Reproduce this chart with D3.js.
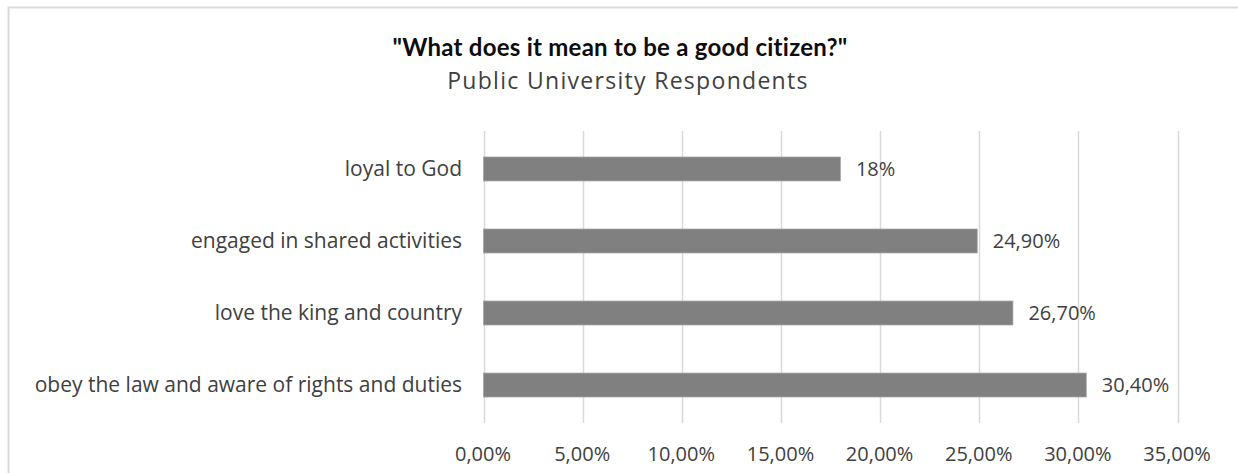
<!DOCTYPE html>
<html>
<head>
<meta charset="utf-8">
<script src="https://cdn.jsdelivr.net/npm/d3@7"></script>
<style>
  html, body { margin: 0; padding: 0; background: #ffffff; }
  svg { display: block; }
</style>
</head>
<body>
<svg id="chart" width="1238" height="473"></svg>
<script>
const categories = [
  "loyal to God",
  "engaged in shared activities",
  "love the king and country",
  "obey the law and aware of rights and duties"
];
const values = [18, 24.9, 26.7, 30.4];
const valueLabels = ["18%", "24,90%", "26,70%", "30,40%"];
const tickValues = [0, 5, 10, 15, 20, 25, 30, 35];
const tickLabels = ["0,00%", "5,00%", "10,00%", "15,00%", "20,00%", "25,00%", "30,00%", "35,00%"];
const titleText = "\"What does it mean to be a good citizen?\"";
const subtitleText = "Public University Respondents";

const svg = d3.select("#chart");

// chart frame (cropped on right and bottom)
svg.append("rect")
  .attr("x", 8.5).attr("y", 7.5)
  .attr("width", 1300).attr("height", 500)
  .attr("fill", "#ffffff")
  .attr("stroke", "#d9d9d9")
  .attr("stroke-width", 2);

const x = d3.scaleLinear().domain([0, 35]).range([483.5, 1177.5]);
const y = d3.scaleBand().domain(categories).range([133, 421]).paddingInner(0.667).paddingOuter(0.333);

const plotTop = 131, plotBottom = 423;

// gridlines
svg.append("g").selectAll("line")
  .data(tickValues)
  .join("line")
  .attr("x1", d => Math.round(x(d)) + 0.5)
  .attr("x2", d => Math.round(x(d)) + 0.5)
  .attr("y1", plotTop).attr("y2", plotBottom)
  .attr("stroke", "#d9d9d9")
  .attr("stroke-width", 1.5);

// x tick labels via axis
const xAxis = d3.axisBottom(x)
  .tickValues(tickValues)
  .tickFormat((d, i) => tickLabels[i])
  .tickSize(0)
  .tickPadding(0);
const gx = svg.append("g")
  .attr("transform", `translate(-1, 461)`)
  .call(xAxis);
gx.select(".domain").remove();
gx.selectAll("text")
  .attr("dy", 0)
  .attr("font-family", "'Open Sans', sans-serif")
  .attr("font-size", 20)
  .attr("fill", "#404040");

// category labels via axis
const yAxis = d3.axisLeft(y).tickSize(0).tickPadding(0);
const gy = svg.append("g")
  .attr("transform", `translate(462, 0)`)
  .call(yAxis);
gy.select(".domain").remove();
gy.selectAll("text")
  .attr("dy", "0.33em")
  .attr("font-family", "'Open Sans', sans-serif")
  .attr("font-size", 21)
  .attr("fill", "#404040");

// bars
svg.append("g").selectAll("rect")
  .data(categories)
  .join("rect")
  .attr("x", x(0))
  .attr("y", d => y(d))
  .attr("width", (d, i) => x(values[i]) - x(0))
  .attr("height", y.bandwidth())
  .attr("fill", "#808080")
  .attr("stroke", "#a6a6a6")
  .attr("stroke-width", 0.75);

// value labels
svg.append("g").selectAll("text")
  .data(categories)
  .join("text")
  .attr("x", (d, i) => x(values[i]) + 15.5)
  .attr("y", d => y(d) + y.bandwidth() / 2)
  .attr("dy", "0.37em")
  .attr("font-family", "'Open Sans', sans-serif")
  .attr("font-size", 20)
  .attr("fill", "#404040")
  .text((d, i) => valueLabels[i]);

// titles
svg.append("text")
  .attr("x", 620).attr("y", 56)
  .attr("text-anchor", "middle")
  .attr("font-family", "Lato, sans-serif")
  .attr("font-weight", "bold")
  .attr("font-size", 24)
  .attr("letter-spacing", 0.25)
  .attr("fill", "#0d0d0d")
  .text(titleText);
svg.append("text")
  .attr("x", 628).attr("y", 89)
  .attr("text-anchor", "middle")
  .attr("font-family", "'Open Sans', sans-serif")
  .attr("font-size", 23)
  .attr("letter-spacing", 1.3)
  .attr("fill", "#404040")
  .text(subtitleText);
</script>
</body>
</html>
